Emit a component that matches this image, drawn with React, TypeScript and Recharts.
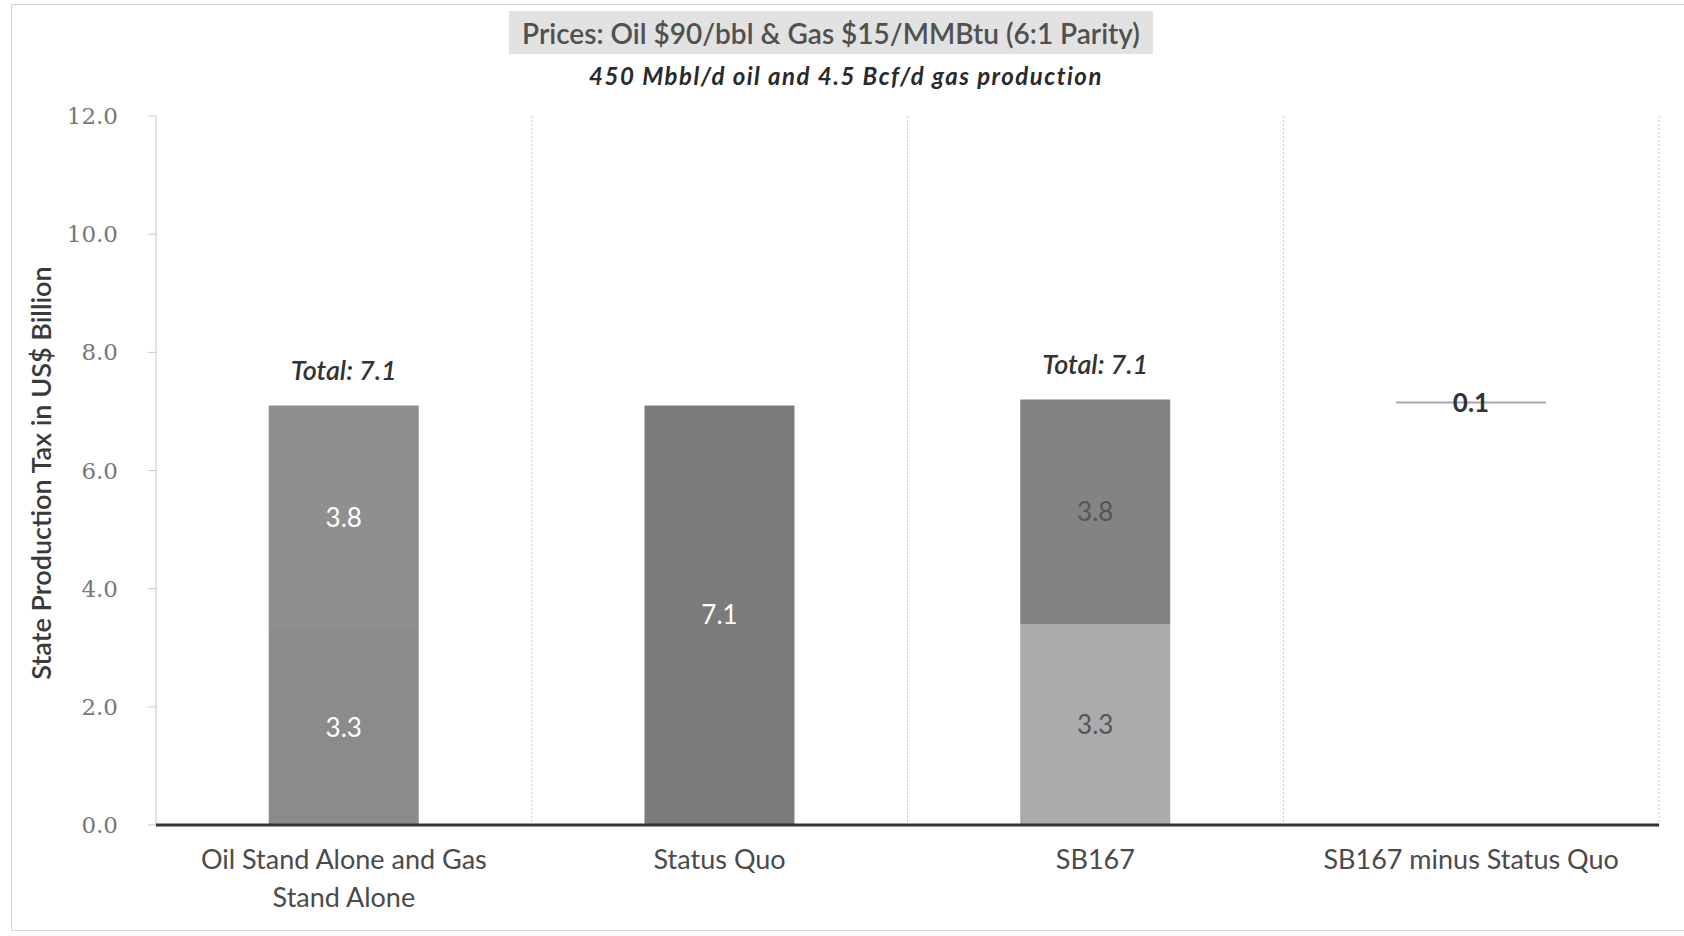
import { BarChart, Bar, XAxis, YAxis, CartesianGrid, Cell, LabelList } from "recharts";

const categories = [
  "Oil Stand Alone and Gas Stand Alone",
  "Status Quo",
  "SB167",
  "SB167 minus Status Quo",
];
const lowerValues = [3.3, 0, 3.4, 0];
const upperValues = [3.8, 0, 3.8, 0];
const combinedValues = [0, 7.1, 0, 0];
const changeBase = [0, 0, 0, 7.1];
const changeValues = [0, 0, 0, 0.1];
const lowerLabels = ["3.3", "", "3.3", ""];
const upperLabels = ["3.8", "", "3.8", ""];
const combinedLabels = ["", "7.1", "", ""];
const changeLabels = ["", "", "", "0.1"];
const totalLabels = ["Total: 7.1", "", "Total: 7.1", ""];
const yTicks = [0, 2, 4, 6, 8, 10, 12];

// which bars carry dark label text instead of white
const darkText = [false, false, true, true];
const lowerColors = ["#8b8b8b", "#7b7b7b", "#ababab", "#ffffff"];
const upperColors = ["#8f8f8f", "#7b7b7b", "#838383", "#ffffff"];

const rows = categories.map((name, i) => ({
  name,
  lower: lowerValues[i],
  upper: upperValues[i],
  combined: combinedValues[i],
  base: changeBase[i],
  change: changeValues[i],
  lowerLight: darkText[i] ? "" : lowerLabels[i],
  lowerDark: darkText[i] ? lowerLabels[i] : "",
  upperLight: darkText[i] ? "" : upperLabels[i],
  upperDark: darkText[i] ? upperLabels[i] : "",
  combinedLabel: combinedLabels[i],
  changeLabel: changeLabels[i],
  total: totalLabels[i],
}));

const FONT = "Lato, 'Open Sans', sans-serif";

const wrap = (text: string, max: number) => {
  const out: string[] = [];
  let line = "";
  text.split(" ").forEach((w) => {
    const next = line ? line + " " + w : w;
    if (next.length > max && line) {
      out.push(line);
      line = w;
    } else line = next;
  });
  if (line) out.push(line);
  return out;
};

const CategoryTick = (props: any) => {
  const { x, y, payload } = props;
  return (
    <g>
      {wrap(payload.value, 23).map((l, i) => (
        <text key={i} x={x} y={y + 44 + i * 38} textAnchor="middle" fill="#4a4a4a" fontSize={27} fontFamily={FONT}>
          {l}
        </text>
      ))}
    </g>
  );
};

const insideLabel = (color: string, bold = false) => (props: any) => {
  const vb = props.viewBox || props;
  const { x, y, width, height } = vb;
  const value = props.value;
  if (!value) return null;
  return (
    <text
      x={x + width / 2}
      y={y + height / 2}
      dy="0.35em"
      textAnchor="middle"
      fill={color}
      fontSize={26}
      fontWeight={bold ? 700 : 400}
      fontFamily={FONT}
    >
      {value}
    </text>
  );
};

const totalLabel = (props: any) => {
  const vb = props.viewBox || props;
  const { x, y, width } = vb;
  if (!props.value) return null;
  return (
    <text x={x + width / 2} y={y - 26} textAnchor="middle" fill="#333" fontSize={27} fontWeight={600} fontStyle="italic" fontFamily={FONT}>
      {props.value}
    </text>
  );
};

const ChangeLine = (props: any) => {
  const { x, y, width, height } = props;
  if (!height) return null;
  return <line x1={x} x2={x + width} y1={y + height / 2} y2={y + height / 2} stroke="#a8a8a8" strokeWidth={2} />;
};

export default function App() {
  return (
    <div style={{ position: "absolute", left: 0, top: 0, width: 1684, height: 936, background: "#fff" }}>
      <div style={{ position: "absolute", left: 11, top: 4, width: 1672, height: 925, border: "1px solid #d4d4d4" }} />
      <div
        style={{
          position: "absolute", left: 509, top: 11, width: 644, height: 43, background: "#e2e2e2",
          display: "flex", alignItems: "center", justifyContent: "center",
          fontFamily: FONT, fontSize: 28, fontWeight: 600, color: "#505050", whiteSpace: "nowrap",
        }}
      >
        Prices: Oil $90/bbl &amp; Gas $15/MMBtu (6:1 Parity)
      </div>
      <div
        style={{
          position: "absolute", left: 846, top: 75, transform: "translate(-50%, -50%)",
          fontFamily: FONT, fontSize: 24, letterSpacing: 1.5, fontWeight: 700, fontStyle: "italic", color: "#2a2a2a", whiteSpace: "nowrap",
        }}
      >
        450 Mbbl/d oil and 4.5 Bcf/d gas production
      </div>
      <div
        style={{
          position: "absolute", left: 40, top: 473, transform: "translate(-50%, -50%) rotate(-90deg)",
          fontFamily: FONT, fontSize: 27, fontWeight: 600, color: "#3a3a3a", whiteSpace: "nowrap",
        }}
      >
        State Production Tax in US$ Billion
      </div>
      <BarChart
        width={1684}
        height={936}
        data={rows}
        margin={{ top: 116, right: 25, left: 36, bottom: 31 }}
        barCategoryGap="30%"
        style={{ position: "absolute", left: 0, top: 0 }}
      >
        <CartesianGrid
          horizontal={false}
          stroke="#c8c8c8"
          strokeDasharray="2 2"
          verticalCoordinatesGenerator={({ offset }: any) => [1, 2, 3, 4].map((i) => offset.left + (offset.width * i) / 4)}
        />
        <YAxis
          width={120}
          domain={[0, 12]}
          ticks={yTicks}
          tickFormatter={(v: number) => v.toFixed(1)}
          tick={{ fill: "#777", fontSize: 23, fontFamily: "'DejaVu Serif', serif" }}
          tickSize={8}
          tickMargin={30}
          axisLine={{ stroke: "#c8c8c8" }}
          tickLine={{ stroke: "#c8c8c8" }}
        />
        <XAxis
          dataKey="name"
          height={80}
          tick={<CategoryTick />}
          tickLine={false}
          tickSize={0}
          tickMargin={0}
          interval={0}
          axisLine={{ stroke: "#333", strokeWidth: 3 }}
        />
        <Bar dataKey="lower" stackId="a" isAnimationActive={false}>
          {rows.map((_, i) => (
            <Cell key={i} fill={lowerColors[i]} />
          ))}
          <LabelList dataKey="lowerLight" content={insideLabel("#ffffff")} />
          <LabelList dataKey="lowerDark" content={insideLabel("#555555")} />
        </Bar>
        <Bar dataKey="upper" stackId="a" isAnimationActive={false}>
          {rows.map((_, i) => (
            <Cell key={i} fill={upperColors[i]} />
          ))}
          <LabelList dataKey="upperLight" content={insideLabel("#ffffff")} />
          <LabelList dataKey="upperDark" content={insideLabel("#555555")} />
          <LabelList dataKey="total" content={totalLabel} />
        </Bar>
        <Bar dataKey="combined" stackId="a" fill="#7b7b7b" isAnimationActive={false}>
          <LabelList dataKey="combinedLabel" content={insideLabel("#ffffff")} />
        </Bar>
        <Bar dataKey="base" stackId="a" fill="transparent" isAnimationActive={false} />
        <Bar dataKey="change" stackId="a" shape={<ChangeLine />} isAnimationActive={false}>
          <LabelList dataKey="changeLabel" content={insideLabel("#333333", true)} />
        </Bar>
      </BarChart>
    </div>
  );
}
